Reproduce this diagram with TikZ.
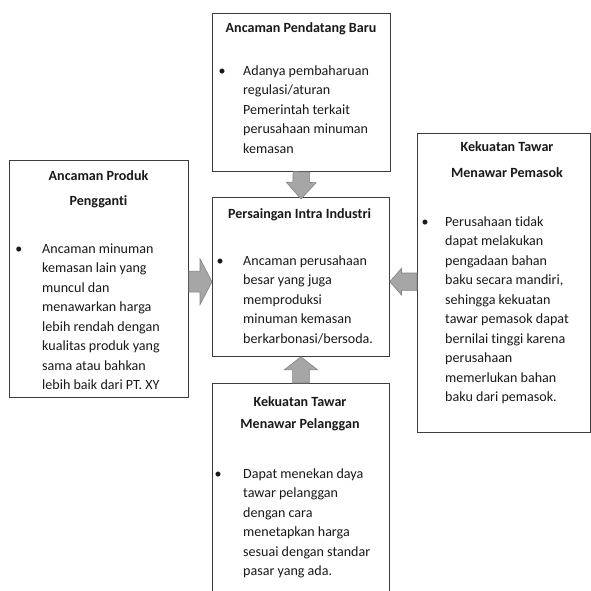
\documentclass[tikz,border=0pt]{standalone}
\usepackage{fontspec}
\setmainfont[Ligatures=NoCommon]{Carlito}
\usepackage{tikz}
\usetikzlibrary{calc}
\definecolor{boxline}{RGB}{60,60,60}
\definecolor{arrfill}{RGB}{166,166,166}
\definecolor{arrline}{RGB}{130,130,130}
\definecolor{inktext}{RGB}{25,25,25}
\newcommand{\blockarrow}[5]{%
  \coordinate (hb) at ($(#2)!#5!(#1)$);
  \filldraw[arr] ($(#1)!#3!90:(#2)$) -- ($(hb)!#3!90:(#2)$) -- ($(hb)!#4!90:(#2)$)
    -- (#2) -- ($(hb)!#4!-90:(#2)$) -- ($(hb)!#3!-90:(#2)$) -- ($(#1)!#3!-90:(#2)$) -- cycle;
}
\begin{document}
\begin{tikzpicture}[
 x=0.03cm,y=-0.03cm,
 box/.style={draw=boxline,line width=0.7pt,rectangle,inner sep=0pt,anchor=north west},
 ttl/.style={font=\fontsize{12}{16.6}\selectfont\bfseries,text=inktext,align=center,anchor=north,inner sep=0pt},
 txt/.style={font=\fontsize{12}{16.6}\selectfont,text=inktext,align=left,anchor=north west,inner sep=0pt},
 dot/.style={font=\fontsize{12}{16.6}\selectfont,text=inktext,anchor=north,inner sep=0pt},
 arr/.style={fill=arrfill,draw=arrline,line width=0.5pt,line join=miter}
]
\useasboundingbox (0,0) rectangle (591,590);
\clip (0,0) rectangle (591,590);
\node[box,minimum width=53.4mm,minimum height=47.4mm] (baru) at (212,13) {};
\node[box,minimum width=53.7mm,minimum height=71.1mm] (ganti) at (9,160) {};
\node[box,minimum width=53.1mm,minimum height=47.7mm] (intra) at (212,197) {};
\node[box,minimum width=51.9mm,minimum height=89.7mm] (pasok) at (417,133) {};
\node[box,minimum width=53.1mm,minimum height=71.1mm] (langgan) at (212,383) {};

\node[ttl] (baruT) at (301,18.6) {\strut Ancaman Pendatang Baru};
\node[dot] (baruD) at (222,61.6) {\strut\textbullet};
\node[txt] (baruB) at (243,61.6) {\strut Adanya pembaharuan\\regulasi/aturan\\Pemerintah terkait\\perusahaan minuman\\kemasan};

\node[ttl] (gantiT) at (98.5,166.6) {\strut Ancaman Produk\\[4.7pt]Pengganti};
\node[dot] (gantiD) at (19,239.6) {\strut\textbullet};
\node[txt] (gantiB) at (42,239.6) {\strut Ancaman minuman\\kemasan lain yang\\muncul dan\\menawarkan harga\\lebih rendah dengan\\kualitas produk yang\\sama atau bahkan\\lebih baik dari PT. XY};

\node[ttl] (intraT) at (299.5,204.6) {\strut Persaingan Intra Industri};
\node[dot] (intraD) at (220,251.6) {\strut\textbullet};
\node[txt] (intraB) at (243,251.6) {\strut Ancaman perusahaan\\besar yang juga\\memproduksi\\minuman kemasan\\berkarbonasi/bersoda.};

\node[ttl] (pasokT) at (507,137.6) {\strut Kekuatan Tawar\\[5.5pt]Menawar Pemasok};
\node[dot] (pasokD) at (425,212.6) {\strut\textbullet};
\node[txt] (pasokB) at (445,212.6) {\strut Perusahaan tidak\\dapat melakukan\\pengadaan bahan\\baku secara mandiri,\\sehingga kekuatan\\tawar pemasok dapat\\bernilai tinggi karena\\perusahaan\\memerlukan bahan\\baku dari pemasok.};

\node[ttl] (langganT) at (300,392.6) {\strut Kekuatan Tawar\\[2.1pt]Menawar Pelanggan};
\node[dot] (langganD) at (218,464.6) {\strut\textbullet};
\node[txt] (langganB) at (243,464.6) {\strut Dapat menekan daya\\tawar pelanggan\\dengan cara\\menetapkan harga\\sesuai dengan standar\\pasar yang ada.};

\coordinate (row) at (0,281.7);
\coordinate (gantiE) at (ganti.east |- row);
\coordinate (intraW) at (intra.west |- row);
\coordinate (pasokW) at (pasok.west |- row);
\coordinate (intraE) at (intra.east |- row);
\coordinate (intraS) at ([yshift=-0.6mm]intra.north);
\blockarrow{baru.south}{intraS}{2.5mm}{4.5mm}{5mm}
\blockarrow{gantiE}{intraW}{3.15mm}{6.9mm}{3.6mm}
\blockarrow{pasokW}{intraE}{2.6mm}{4mm}{3.5mm}
\blockarrow{langgan.north}{intra.south}{2.5mm}{5mm}{3.9mm}
\end{tikzpicture}
\end{document}
